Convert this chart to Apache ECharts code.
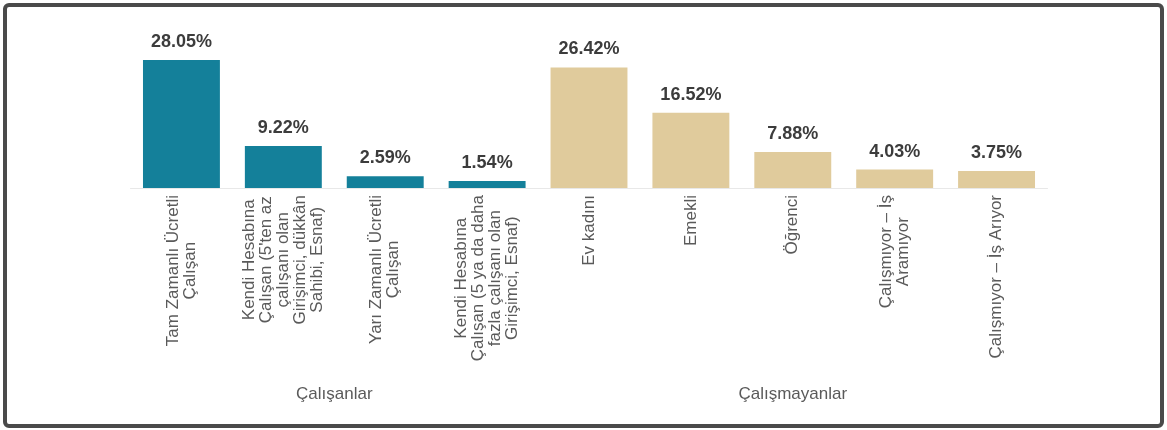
<!DOCTYPE html>
<html>
<head>
<meta charset="utf-8">
<script src="https://cdn.jsdelivr.net/npm/echarts@6/dist/echarts.min.js"></script>
<style>
  html, body { margin: 0; padding: 0; background: #ffffff; }
  #chart { width: 1167px; height: 430px; }
</style>
</head>
<body>
<div id="chart"></div>
<script>
// Categories (multi-line labels as in the reference)
const categories = [
  'Tam Zamanlı Ücretli\nÇalışan',
  'Kendi Hesabına\nÇalışan (5\'ten az\nçalışanı olan\nGirişimci, dükkân\nSahibi, Esnaf)',
  'Yarı Zamanlı Ücretli\nÇalışan',
  'Kendi Hesabına\nÇalışan (5 ya da daha\nfazla çalışanı olan\nGirişimci, Esnaf)',
  'Ev kadını',
  'Emekli',
  'Öğrenci',
  'Çalışmıyor – İş\nAramıyor',
  'Çalışmıyor – İş Arıyor'
];
const values = [28.05, 9.22, 2.59, 1.54, 26.42, 16.52, 7.88, 4.03, 3.75];
const groupNames = ['Çalışanlar', 'Çalışmayanlar'];
const groupSizes = [4, 5];
const groupColors = ['#14809a', '#e0cb9c'];

// derive group of each category and group centres (in category index units)
const catGroup = [];
const groupCenters = [];
let start = 0;
groupSizes.forEach((n, g) => {
  for (let i = 0; i < n; i++) catGroup.push(g);
  groupCenters.push(start + (n - 1) / 2);
  start += n;
});

const chart = echarts.init(document.getElementById('chart'));
const labelFont = '"Liberation Sans", Arial, sans-serif';

chart.setOption({
  backgroundColor: '#ffffff',
  animation: false,
  graphic: [{
    type: 'rect',
    shape: { x: 5, y: 5, width: 1157, height: 421, r: 4 },
    style: { fill: 'none', stroke: '#4a4a4a', lineWidth: 4 },
    silent: true
  }],
  grid: { left: 130.5, right: 119.5, top: 42, bottom: 242, containLabel: false },
  xAxis: [{
    type: 'category',
    data: categories,
    axisLine: { show: true, lineStyle: { color: '#e8e8e8', width: 1 } },
    axisTick: { show: false },
    axisLabel: {
      interval: 0,
      rotate: 90,
      margin: 7,
      fontFamily: labelFont,
      fontSize: 17,
      color: '#5a5a5a',
      formatter: function (v) {
        return v.split('\n').map(l => '{c|' + l + '}').join('\n');
      },
      rich: {
        c: { align: 'center', fontFamily: labelFont, fontSize: 17, lineHeight: 17, color: '#5a5a5a' }
      }
    }
  }, {
    type: 'value',
    position: 'bottom',
    min: -0.5,
    max: 8.5,
    interval: 0.5,
    axisLine: { show: false },
    axisTick: { show: false },
    splitLine: { show: false },
    axisLabel: {
      margin: 198,
      fontFamily: labelFont,
      fontSize: 17,
      color: '#5a5a5a',
      showMinLabel: true,
      showMaxLabel: true,
      formatter: function (v) {
        for (let g = 0; g < groupCenters.length; g++) {
          if (Math.abs(groupCenters[g] - v) < 1e-6) return groupNames[g];
        }
        return '';
      }
    }
  }],
  yAxis: {
    type: 'value',
    min: 0,
    max: 32,
    show: false,
    splitLine: { show: false }
  },
  series: [{
    type: 'bar',
    xAxisIndex: 0,
    barCategoryGap: '24.5%',
    data: values.map((v, i) => ({
      value: v,
      itemStyle: { color: groupColors[catGroup[i]] }
    })),
    label: {
      show: true,
      position: 'top',
      distance: 9,
      fontFamily: labelFont,
      fontWeight: 'bold',
      fontSize: 18,
      color: '#3c3c3c',
      formatter: p => p.value.toFixed(2) + '%'
    }
  }]
});
</script>
</body>
</html>
